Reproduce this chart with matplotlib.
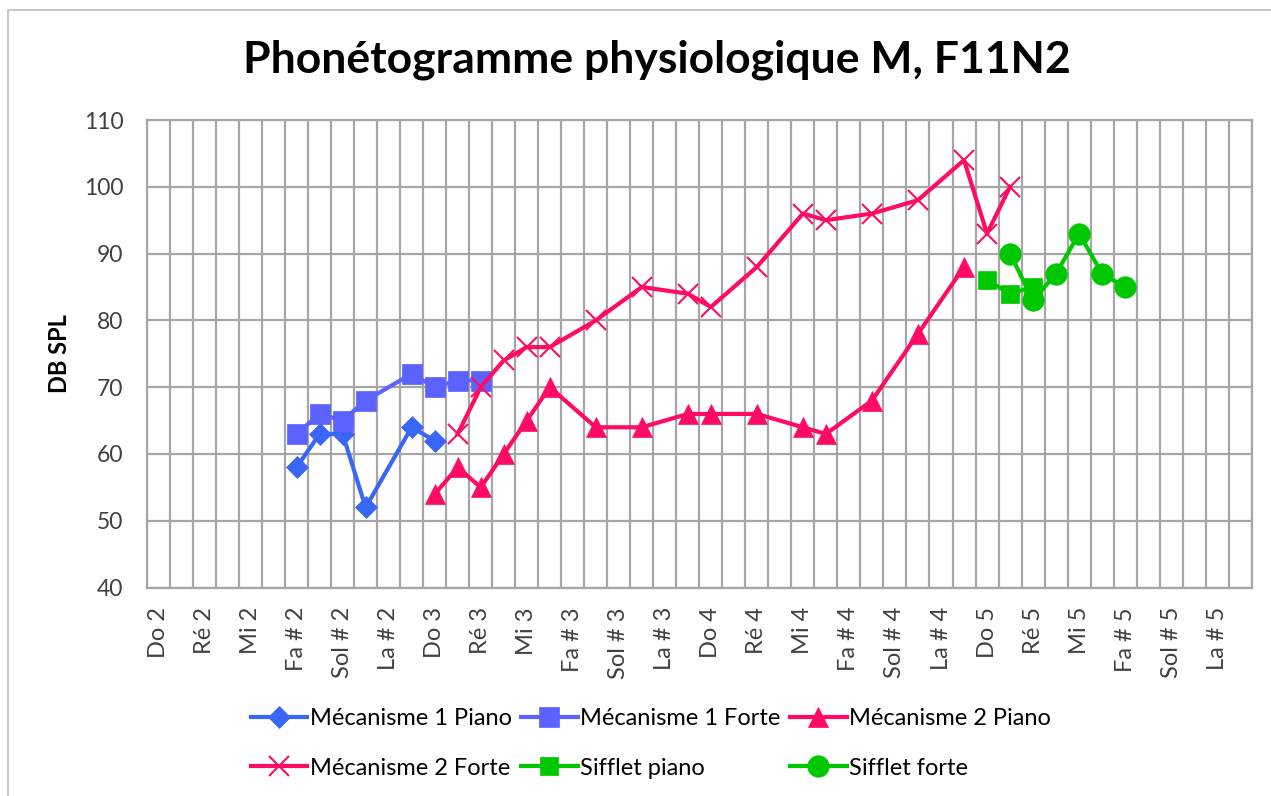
import numpy as np
import matplotlib.pyplot as plt
from matplotlib.patches import Rectangle

plt.rcParams['font.family'] = ['Lato', 'DejaVu Sans']

# notes Do 2 .. Si 5 (48 demi-tons)
noms = ['Do', 'Do #', 'Ré', 'Ré #', 'Mi', 'Fa', 'Fa #', 'Sol', 'Sol #', 'La', 'La #', 'Si']
notes = [f'{n} {o}' for o in range(2, 6) for n in noms]

# valeurs par index de note (dB SPL)
meca1_piano = {6: 58, 7: 63, 8: 63, 9: 52, 11: 64, 12: 62}
meca1_forte = {6: 63, 7: 66, 8: 65, 9: 68, 11: 72, 12: 70, 13: 71, 14: 71}
meca2_piano = {12: 54, 13: 58, 14: 55, 15: 60, 16: 65, 17: 70, 19: 64, 21: 64, 23: 66,
               24: 66, 26: 66, 28: 64, 29: 63, 31: 68, 33: 78, 35: 88}
meca2_forte = {13: 63, 14: 70, 15: 74, 16: 76, 17: 76, 19: 80, 21: 85, 23: 84, 24: 82,
               26: 88, 28: 96, 29: 95, 31: 96, 33: 98, 35: 104, 36: 93, 37: 100}
sifflet_piano = {36: 86, 37: 84, 38: 85}
sifflet_forte = {37: 90, 38: 83, 39: 87, 40: 93, 41: 87, 42: 85}

series = [
    ('Mécanisme 1 Piano', meca1_piano, '#3a66f5', 'D', 11),
    ('Mécanisme 1 Forte', meca1_forte, '#5b62ff', 's', 14),
    ('Mécanisme 2 Piano', meca2_piano, '#ff0a64', '^', 14),
    ('Mécanisme 2 Forte', meca2_forte, '#ff0a64', 'x', 14),
    ('Sifflet piano', sifflet_piano, '#00c800', 's', 13),
    ('Sifflet forte', sifflet_forte, '#00c800', 'o', 15.5),
]

fig = plt.figure(figsize=(12.71, 7.96), dpi=100)
ax = fig.add_axes([147 / 1271, 1 - 587.6 / 796, (1251.7 - 147) / 1271, (587.6 - 120) / 796])

handles = []
for nom, d, c, m, ms in series:
    x = list(d.keys())
    y = list(d.values())
    h, = ax.plot(x, y, color=c, marker=m, markersize=ms, lw=3, label=nom,
                 markeredgewidth=1.5 if m == 'x' else 0.5, markeredgecolor=c, zorder=3)
    handles.append(h)

ax.set_xlim(-0.5, len(notes) - 0.5)
ax.set_ylim(40, 110)
ax.set_yticks(range(40, 111, 10))
ax.set_xticks(range(0, len(notes), 2))
ax.set_xticklabels(notes[::2], rotation=90, fontsize=17, color='#404040')
ax.set_xticks(np.arange(-0.5, len(notes), 1), minor=True)
ax.tick_params(axis='y', labelsize=16.5, colors='#404040', length=0, pad=17)
ax.tick_params(axis='x', which='both', length=0, pad=14)
ax.grid(True, which='minor', axis='x', color='#a6a6a6', lw=1.6)
ax.grid(True, which='major', axis='y', color='#a6a6a6', lw=1.6)
ax.set_axisbelow(True)
for s in ax.spines.values():
    s.set_color('#a6a6a6')
    s.set_linewidth(1.6)

ax.set_ylabel('DB SPL', fontsize=17, fontweight='bold', labelpad=9)
fig.text(0.517, 0.925, 'Phonétogramme physiologique M, F11N2', ha='center', va='center',
         fontsize=32, fontweight='bold')

ordre = [0, 3, 1, 4, 2, 5]
fig.legend([handles[i] for i in ordre], [series[i][0] for i in ordre], ncol=3,
           loc='center', bbox_to_anchor=(0.512, 0.066), frameon=False, fontsize=17,
           handlelength=2.4, handletextpad=0.1, columnspacing=0.4, labelspacing=1.2)

fig.add_artist(Rectangle((8 / 1271, -0.1), 1.2, 1 - 10 / 796 + 0.1, transform=fig.transFigure,
                         fill=False, edgecolor='#c8c8c8', lw=1.5))

fig.savefig('out.png', dpi=100)
